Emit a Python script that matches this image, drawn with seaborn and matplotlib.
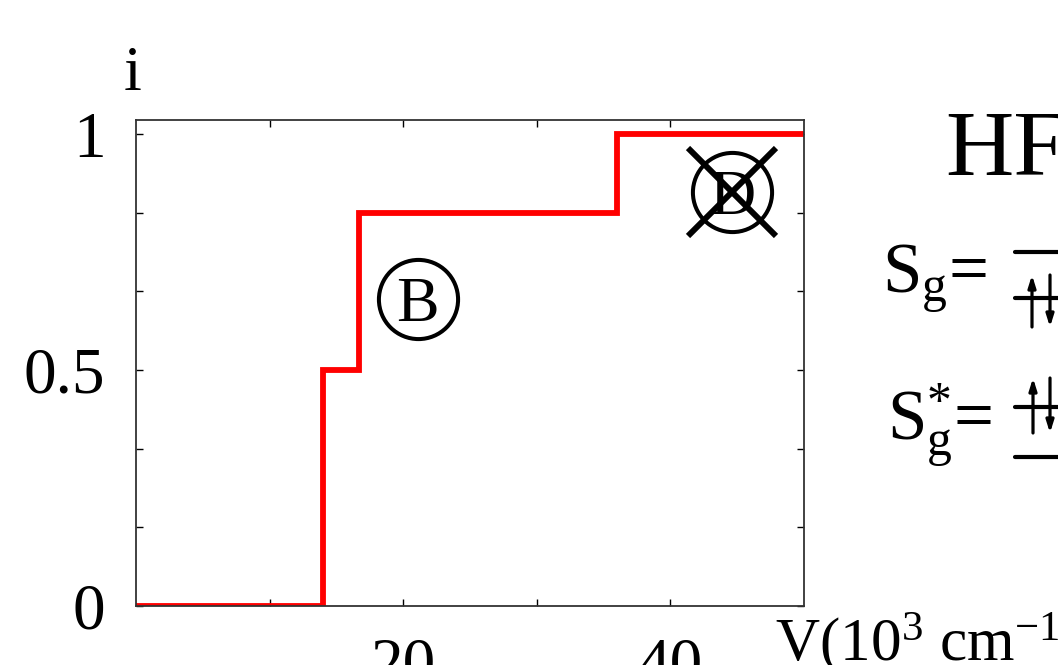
import matplotlib
matplotlib.use("Agg")
import matplotlib.pyplot as plt
from matplotlib.lines import Line2D
import seaborn as sns
import pandas as pd

# Step profile of i versus V
v_edges = [0, 14.0, 16.7, 36.0, 50]
i_levels = [0, 0.5, 0.833, 1.0, 1.0]

# Labelled regions (circled letters)
region_labels = ["B", "D"]
region_v = [21.1, 44.6]
region_i = [0.65, 0.877]

x_ticks = [10, 20, 30, 40]
x_tick_labels = ["", "20", "", "40"]
y_ticks = [0, 1/6, 2/6, 0.5, 4/6, 5/6, 1]
y_tick_labels = ["0", "", "", "0.5", "", "", "1"]

sns.set_style("ticks")
plt.rcParams["font.family"] = ["Liberation Serif", "DejaVu Serif"]
plt.rcParams["mathtext.fontset"] = "custom"
plt.rcParams["mathtext.rm"] = "Liberation Serif"
plt.rcParams["mathtext.it"] = "Liberation Serif:italic"
plt.rcParams["text.color"] = "black"

W, H = 1058, 665
fig = plt.figure(figsize=(W / 100, H / 100), dpi=100)
ax = fig.add_axes([136 / W, 1 - 606 / H, (804 - 136) / W, (606 - 120) / H])

df = pd.DataFrame({"V": v_edges, "i": i_levels})
sns.lineplot(data=df, x="V", y="i", ax=ax, color="#ff0000", linewidth=4.2,
             drawstyle="steps-post", sort=False)
for ln in ax.get_lines():
    ln.set_linewidth(4.2)
    ln.set_solid_joinstyle("miter")

ax.set_xlim(0, 50)
ax.set_ylim(0, 1.03)
ax.set_xticks(x_ticks)
ax.set_xticklabels(x_tick_labels)
ax.set_yticks(y_ticks)
ax.set_yticklabels(y_tick_labels)
ax.tick_params(direction="in", length=5, width=1, top=True, right=True,
               labelsize=47, colors="black")
ax.tick_params(axis="x", pad=22)
ax.tick_params(axis="y", pad=22)
for s in ax.spines.values():
    s.set_linewidth(1.3)
    s.set_color("#333333")
ax.set_xlabel("")
ax.set_ylabel("")

# circled letters
for lab, vx, iy in zip(region_labels, region_v, region_i):
    ax.plot([vx], [iy], marker="o", ms=57, mfc="none", mec="black", mew=2.9,
            clip_on=False)
    ax.text(vx, iy, lab, fontsize=46, ha="center", va="center_baseline",
            color="black")
# crossed-out D
ax.plot([region_v[1]], [region_i[1]], marker="x", ms=63, mec="black", mew=4.3,
        clip_on=False)

def fx(px):
    return px / W

def fy(py):
    return 1 - py / H

fig.text(fx(133), fy(75), "i", fontsize=46, ha="center", va="center")
fig.text(fx(775), fy(660), r"V(10$^{3}$ cm$^{-1}$)", fontsize=44,
         ha="left", va="baseline")
fig.text(fx(945), fy(175), "HF", fontsize=68, ha="left", va="baseline")
fig.text(fx(882), fy(293), r"S$_{\mathrm{g}}$=", fontsize=51, ha="left",
         va="baseline")
fig.text(fx(887), fy(440), r"S$^{*}_{\mathrm{g}}$=", fontsize=51, ha="left",
         va="baseline")

# orbital level diagrams
def hline(py):
    fig.add_artist(Line2D([fx(1015), fx(1070)], [fy(py), fy(py)],
                          color="black", lw=3.0))

def spin(px, up, y0, y1):
    start, end = (y1, y0) if up else (y0, y1)
    fig.add_artist(plt.Annotation("", xy=(fx(px), fy(end)),
                                  xytext=(fx(px), fy(start)),
                                  xycoords="figure fraction",
                                  arrowprops=dict(arrowstyle="-|>,head_length=0.7,head_width=0.22",
                                                  color="black", lw=2.3,
                                                  shrinkA=0, shrinkB=0)))

hline(252)
hline(298)
spin(1032, True, 275, 327)
spin(1050, False, 275, 327)

hline(407)
hline(457)
spin(1033, True, 378, 433)
spin(1050, False, 378, 433)

fig.savefig("out.png", dpi=100)
